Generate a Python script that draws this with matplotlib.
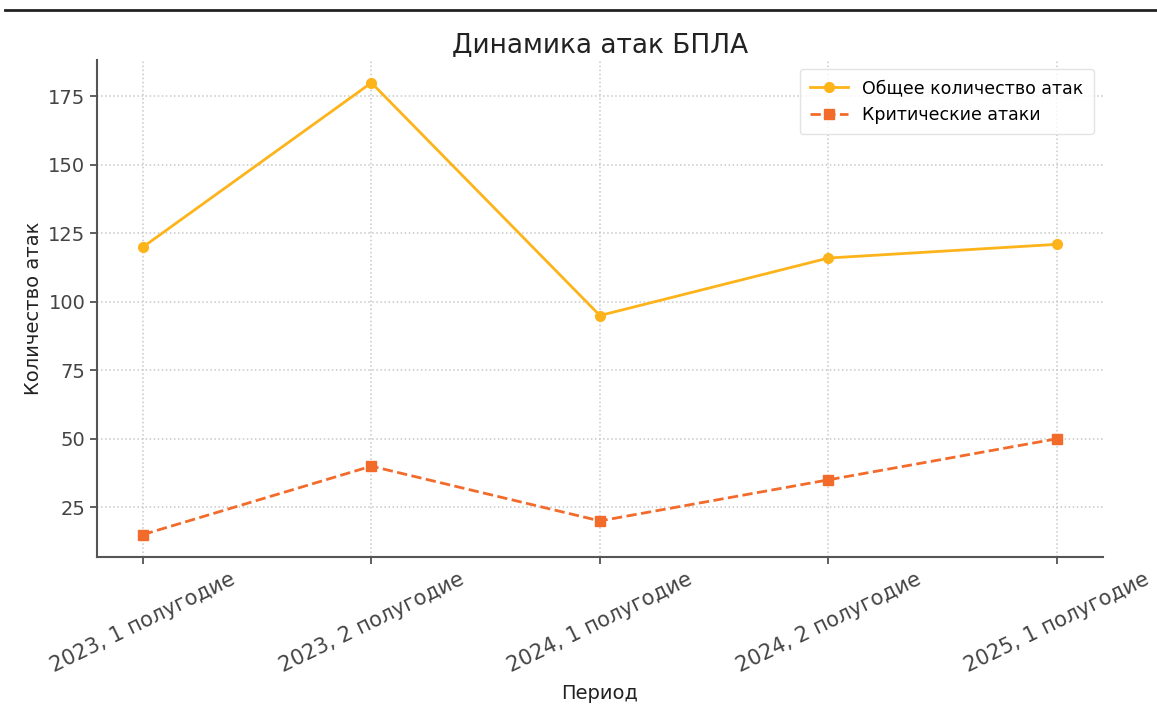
import matplotlib.pyplot as plt
from matplotlib.lines import Line2D

periods = ["2023, 1 полугодие", "2023, 2 полугодие", "2024, 1 полугодие",
           "2024, 2 полугодие", "2025, 1 полугодие"]
total_attacks = [120, 180, 95, 116, 121]
critical_attacks = [15, 40, 20, 35, 50]

fig = plt.figure(figsize=(11.57, 7.08), dpi=100)
ax = fig.add_axes([0.084, 0.213, 0.869, 0.702])

x = range(len(periods))
ax.plot(x, total_attacks, color='#FDB31A', marker='o', markersize=7, linewidth=2,
        label='Общее количество атак')
ax.plot(x, critical_attacks, color='#F26B2A', marker='s', markersize=7, linewidth=2,
        linestyle='--', label='Критические атаки')

ax.set_xticks(list(x))
ax.set_xticklabels(periods, rotation=26, fontsize=15, color='#333333')
ax.tick_params(axis='y', labelsize=14, labelcolor='#333333')
ax.tick_params(colors='#444444', length=5, width=1.2)
ax.set_yticks([25, 50, 75, 100, 125, 150, 175])

ax.set_title('Динамика атак БПЛА', fontsize=19, color='#222222')
ax.set_xlabel('Период', fontsize=14, color='#222222', labelpad=6)
ax.set_ylabel('Количество атак', fontsize=14, color='#222222')

ax.grid(True, linestyle=':', color='#c8c8c8', linewidth=1.1)
for side in ['top', 'right']:
    ax.spines[side].set_visible(False)
for side in ['left', 'bottom']:
    ax.spines[side].set_color('#555555')
    ax.spines[side].set_linewidth(1.5)

ax.legend(loc='upper right', fontsize=12.5, edgecolor='#dddddd', borderpad=0.6,
          handlelength=2.2)

# dark frame line across the top of the screenshot
fig.add_artist(Line2D([0.004, 1.0], [0.986, 0.986], color='#222222', linewidth=2,
                      transform=fig.transFigure))

fig.savefig('out.png', dpi=100)
